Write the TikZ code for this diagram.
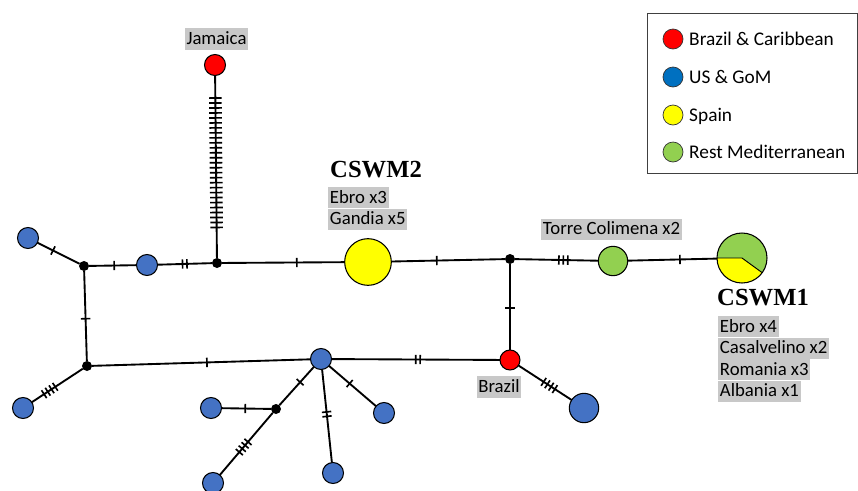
\documentclass[tikz,border=0pt]{standalone}
\usepackage{fontspec}
\setmainfont{Carlito}
\newfontfamily\titlefont{Liberation Serif}
\usetikzlibrary{decorations.markings,positioning}

\definecolor{hapblue}{HTML}{4472C4}
\definecolor{legblue}{HTML}{0070C0}
\definecolor{hapred}{HTML}{FF0000}
\definecolor{hapyellow}{HTML}{FFFF00}
\definecolor{hapgreen}{HTML}{92D050}
\definecolor{tagray}{RGB}{200,200,200}

\def\tickhalf{4pt}

\tikzset{
  hap/.style={circle, draw=black, line width=0.9pt, inner sep=0pt, outer sep=0pt, minimum size=#1},
  hap/.default=0.63cm,
  medvec/.style={circle, fill=black, inner sep=0pt, outer sep=0pt, minimum size=0.3cm},
  link/.style={line width=1.6pt},
  muts/.style n args={3}{postaction={decorate, decoration={markings,
      mark=at position #2 with {\foreach \k in {1,...,#1}
        {\draw[line width=1.4pt] ({(\k-(#1+1)/2)*#3}, -\tickhalf) -- ({(\k-(#1+1)/2)*#3}, \tickhalf);}}}}},
  tag/.style={fill=tagray, inner xsep=1.5pt, inner ysep=0pt, text height=13.6pt, text depth=4.4pt,
      font=\fontsize{16}{18}\selectfont},
  title/.style={font=\titlefont\bfseries\fontsize{21}{24}\selectfont, inner sep=0pt},
  legtext/.style={font=\fontsize{16.5}{18}\selectfont, inner sep=0pt, anchor=base west}
}

\begin{document}
\begin{tikzpicture}[x=0.03cm, y=-0.03cm]
  \pgfdeclarelayer{bg}    % layer for the pie sectors
  \pgfsetlayers{bg,main}
  \useasboundingbox (0,0) rectangle (858,490);
  % haplotypes
  \node[hap, fill=hapred] (jam) at (215,65) {};
  \node[hap=0.6cm, fill=hapred] (bra) at (510,360) {};
  \node[hap=1.4cm, fill=hapyellow] (cswmB) at (368,262) {};
  \node[hap=0.88cm, fill=hapgreen] (torre) at (613,261) {};
  \node[hap=1.5cm] (cswmA) at (742,258) {};
  \node[hap=0.88cm, fill=hapblue] (usD) at (584,408) {};
  \foreach \N/\X/\Y in {usA/28/238, usB/147/265, usC/23/408, usE/211/408, usF/213/483, usG/333/473, usH/384/413, hub/321/359}
      \node[hap, fill=hapblue] (\N) at (\X,\Y) {};
  % median vectors
  \foreach \N/\X/\Y in {mvA/84/266, mvB/87/366, mvC/217/263, mvD/510/259, mvE/276/409}
      \node[medvec] (\N) at (\X,\Y) {};
  % pie of CSWM1
  \begin{pgfonlayer}{bg}
      \fill[hapgreen] (cswmA) circle[radius=0.75cm];
      \fill[hapyellow] (cswmA.center) -- (cswmA.180) arc[start angle=180, end angle=324, radius=0.75cm] -- cycle;
  \end{pgfonlayer}
  \draw[line width=0.8pt] (cswmA.180) -- (cswmA.center) -- (cswmA.324);
  % links with mutation steps
  \foreach \From/\To/\Cnt/\Pos in {usA/mvA/1/0.37, mvA/usB/1/0.53, usB/mvC/2/0.50, mvA/mvB/1/0.53,
      mvB/usC/4/0.65, mvB/hub/1/0.526, hub/bra/2/0.513, bra/usD/4/0.58, bra/mvD/1/0.485,
      mvC/cswmB/1/0.61, cswmB/mvD/1/0.40, mvD/torre/3/0.58, torre/cswmA/1/0.585,
      hub/mvE/1/0.40, mvE/usE/1/0.52, mvE/usF/4/0.55, hub/usG/2/0.48, hub/usH/1/0.44}
      \draw[link, muts={\Cnt}{\Pos}{3.8pt}] (\From) -- (\To);
  \def\tickhalf{5.4pt}
  \draw[link, muts={27}{0.478}{4.25pt}] (jam) -- (mvC);
  % labels
  \node[tag] (jamtag) at (216.5,39) {Jamaica};
  \node[tag] (bratag) at (499,387) {Brazil};
  \node[tag] (torretag) at (611.5,229.5) {Torre Colimena x2};
  \node[title, anchor=base west] (cswmBname) at (330,177) {CSWM2};
  \node[tag, anchor=north west] (cswmBa) at (328,187) {Ebro x3};
  \node[tag, anchor=north west] (cswmBb) at (cswmBa.south west) {Gandia x5};
  \node[title, anchor=base west] (cswmAname) at (717,305) {CSWM1};
  \node[tag, anchor=north west] (cswmAa) at (718,316) {Ebro x4};
  \node[tag, anchor=north west] (cswmAb) at (cswmAa.south west) {Casalvelino x2};
  \node[tag, anchor=north west] (cswmAc) at (cswmAb.south west) {Romania x3};
  \node[tag, anchor=north west] (cswmAd) at (cswmAc.south west) {Albania x1};
  % legend
  \node[draw=black!75, line width=0.8pt, minimum width=6.3cm, minimum height=4.8cm, anchor=north west] (legend) at (647,13) {};
  \foreach \Y/\C/\T [count=\i] in {39/hapred/{Brazil \& Caribbean}, 77/legblue/{US \& GoM}, 115/hapyellow/Spain, 152/hapgreen/{Rest Mediterranean}}
      {
      \node[hap=0.6cm, fill=\C, draw=black!80, line width=0.6pt] (legdot\i) at (673,\Y) {};
      \node[legtext] (legtxt\i) at (689,\Y+6) {\T};
      }
\end{tikzpicture}
\end{document}
